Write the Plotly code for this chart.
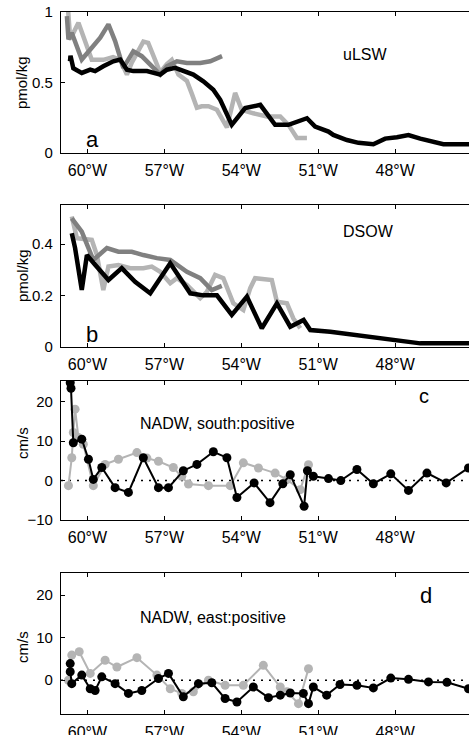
import plotly.graph_objects as go

# ---------------- data ----------------
# Panel a (uLSW, pmol/kg)
a_black_lon = [-60.68, -60.66, -60.55, -60.22, -59.89, -59.70, -59.38, -58.99, -58.72, -58.46, -58.21, -57.68,
               -57.16, -56.90, -56.58, -56.26, -55.87, -55.48, -55.09, -54.82, -54.56, -54.37, -53.85, -53.26,
               -52.68, -52.16, -51.44, -51.12, -50.60, -50.41, -49.88, -49.43, -48.85, -48.39, -47.93, -47.48,
               -47.02, -46.63, -46.12, -44.9]
a_black_val = [0.65, 0.69, 0.60, 0.567, 0.59, 0.58, 0.614, 0.65, 0.662, 0.59, 0.58, 0.58,
               0.555, 0.59, 0.603, 0.58, 0.555, 0.507, 0.448, 0.376, 0.28, 0.198, 0.317, 0.34,
               0.198, 0.198, 0.245, 0.186, 0.15, 0.126, 0.09, 0.07, 0.06, 0.10, 0.11, 0.125,
               0.10, 0.08, 0.06, 0.06]
a_light_lon = [-60.76, -60.67, -60.35, -59.83, -59.38, -59.00, -58.72, -58.46, -58.27, -57.82, -57.63, -57.16,
               -56.90, -56.71, -56.45, -56.12, -55.93, -55.73, -55.54, -55.28, -54.95, -54.56, -54.24, -53.98,
               -53.53, -53.00, -52.48, -52.16, -51.83, -51.44]
a_light_val = [1.03, 0.806, 0.924, 0.66, 0.66, 0.68, 0.66, 0.555, 0.64, 0.79, 0.78, 0.57,
               0.63, 0.66, 0.555, 0.51, 0.42, 0.32, 0.33, 0.33, 0.305, 0.18, 0.425, 0.305,
               0.28, 0.257, 0.257, 0.198, 0.105, 0.105]
a_dark_lon = [-60.80, -60.74, -60.61, -60.22, -59.83, -59.50, -59.18, -58.92, -58.60, -58.21, -57.88, -57.49,
              -57.16, -56.90, -56.51, -56.12, -55.60, -55.21, -54.75]
a_dark_val = [0.97, 0.805, 0.853, 0.662, 0.746, 0.817, 0.912, 0.793, 0.603, 0.72, 0.686, 0.614,
              0.555, 0.614, 0.65, 0.638, 0.638, 0.65, 0.686]

# Panel b (DSOW, pmol/kg)
b_black_lon = [-60.61, -60.48, -60.22, -60.02, -59.70, -59.18, -58.66, -58.14, -57.55, -56.77, -55.99, -55.48,
               -54.95, -54.37, -53.78, -53.20, -52.61, -52.09, -51.57, -51.31, -50.53, -49.10, -47.80, -47.02,
               -44.9]
b_black_val = [0.442, 0.384, 0.221, 0.357, 0.319, 0.26, 0.306, 0.253, 0.208, 0.325, 0.208, 0.20,
               0.20, 0.124, 0.195, 0.072, 0.169, 0.078, 0.104, 0.065, 0.058, 0.039, 0.0195, 0.013,
               0.013]
b_light_lon = [-60.61, -60.41, -59.83, -59.63, -59.38, -59.18, -58.79, -58.33, -57.82, -57.49, -57.16, -56.77,
               -56.51, -56.12, -55.60, -55.34, -55.02, -54.70, -54.31, -53.92, -53.65, -53.46, -52.81, -52.61,
               -52.22, -51.97, -51.70]
b_light_val = [0.507, 0.423, 0.416, 0.357, 0.221, 0.312, 0.318, 0.306, 0.306, 0.312, 0.292, 0.247,
               0.267, 0.24, 0.189, 0.214, 0.28, 0.267, 0.169, 0.143, 0.228, 0.267, 0.26, 0.175,
               0.169, 0.11, 0.072]
b_dark_lon = [-60.61, -60.22, -59.77, -59.24, -58.79, -58.27, -57.82, -57.29, -56.77, -56.12, -55.60, -55.15,
              -54.76]
b_dark_val = [0.50, 0.448, 0.338, 0.384, 0.37, 0.37, 0.357, 0.345, 0.338, 0.292, 0.267, 0.221,
              0.237]

# Panel c (NADW, south positive, cm/s)
c_black_lon = [-60.67, -60.64, -60.55, -60.22, -59.96, -59.77, -59.44, -58.92, -58.40, -57.82, -57.23, -56.84,
               -56.26, -55.73, -55.09, -54.56, -54.17, -53.50, -52.88, -52.38, -52.09, -51.55, -51.42, -51.19,
               -50.60, -50.12, -49.49, -48.85, -48.17, -47.48, -46.76, -46.01, -45.14]
c_black_val = [24.8, 23.4, 9.6, 10.5, 5.4, 0.3, 3.3, -1.8, -3.0, 5.8, -1.8, -1.8,
               2.5, 4.1, 7.3, 5.8, -4.3, -0.6, -5.6, -0.8, 1.5, -6.5, 2.5, 1.1,
               0.5, 0.0, 2.8, -0.8, 1.7, -2.5, 1.9, -0.6, 3.2]
c_light_lon = [-60.74, -60.61, -60.55, -60.48, -60.35, -60.16, -59.77, -59.31, -58.79, -58.07, -57.68, -57.23,
               -56.65, -56.32, -56.06, -55.28, -54.43, -53.92, -53.33, -52.68, -52.22, -51.70, -51.38]
c_light_val = [-1.3, 5.8, 12.2, 18.1, 10.9, 9.2, -1.3, 4.1, 5.4, 7.1, 5.7, 4.9,
               3.3, 1.1, -0.9, -1.3, -1.3, 4.5, 3.2, 1.9, 0.25, -2.3, 4.0]

# Panel d (NADW, east positive, cm/s)
d_black_lon = [-60.67, -60.67, -60.61, -60.22, -59.89, -59.70, -59.44, -58.92, -58.40, -57.88, -57.23, -56.84,
               -56.26, -55.67, -55.15, -54.63, -54.17, -53.53, -52.94, -52.48, -52.09, -51.58, -51.38, -51.19,
               -50.67, -50.15, -49.49, -48.85, -48.17, -47.48, -46.70, -45.98, -45.14]
d_black_val = [3.9, 2.0, -0.8, 1.2, -2.0, -2.4, 0.8, -0.8, -3.1, -2.4, 0.4, 1.6,
               -3.9, -0.8, -0.6, -4.3, -5.1, -1.6, -4.1, -3.5, -3.0, -3.1, -5.5, -1.6,
               -3.5, -1.0, -1.2, -1.8, 0.5, 0.2, -0.4, -0.5, -2.0]
d_light_lon = [-60.74, -60.61, -60.32, -59.89, -59.31, -58.85, -58.07, -57.29, -56.77, -56.32, -55.87, -55.28,
               -54.63, -53.92, -53.14, -52.48, -52.22, -51.77, -51.38]
d_light_val = [0.0, 5.9, 6.7, 1.6, 4.7, 3.1, 5.3, 1.2, -2.0, -3.1, -2.7, 0.0,
               -1.2, -1.2, 3.5, -1.6, -2.7, -5.5, 2.7]

x_tickvals = [-60, -57, -54, -51, -48]
x_ticktext = ["60°W", "57°W", "54°W", "51°W", "48°W"]

# ---------------- figure ----------------
W, H = 469, 735
ML = 61
BLACK = "#000000"
LIGHT = "#b4b4b4"
DARK = "#808080"
FONT = "Liberation Sans, Arial, Helvetica, sans-serif"

fig = go.Figure()

def line(x, y, color, width, ax):
    fig.add_trace(go.Scatter(x=x, y=y, mode="lines", line=dict(color=color, width=width),
                             xaxis="x" + ax, yaxis="y" + ax, showlegend=False, hoverinfo="skip"))

def linemark(x, y, color, ax):
    fig.add_trace(go.Scatter(x=x, y=y, mode="lines+markers", line=dict(color=color, width=2),
                             marker=dict(color=color, size=9),
                             xaxis="x" + ax, yaxis="y" + ax, showlegend=False, hoverinfo="skip"))

line(a_light_lon, a_light_val, LIGHT, 4.5, "")
line(a_dark_lon, a_dark_val, DARK, 4.5, "")
line(a_black_lon, a_black_val, BLACK, 4.5, "")
line(b_light_lon, b_light_val, LIGHT, 4.5, "2")
line(b_dark_lon, b_dark_val, DARK, 4.5, "2")
line(b_black_lon, b_black_val, BLACK, 4.5, "2")
linemark(c_light_lon, c_light_val, LIGHT, "3")
linemark(c_black_lon, c_black_val, BLACK, "3")
linemark(d_light_lon, d_light_val, LIGHT, "4")
linemark(d_black_lon, d_black_val, BLACK, "4")

# panel pixel extents (top, bottom)
panels = [(12.0, 152.7), (205.0, 346.7), (381.0, 520.0), (573.3, 714.3)]
yranges = [[0, 1.0], [0, 0.552], [-10, 25.25], [-8, 25.1]]
ytickvals = [[0, 0.5, 1], [0, 0.2, 0.4], [-10, 0, 10, 20], [0, 10, 20]]
yticktext = [["0", "0.5", "1"], ["0", "0.2", "0.4"], ["\u221210", "0", "10", "20"], ["0", "10", "20"]]

xr = [-61.03, -45.12]
layout = dict(width=W, height=H, margin=dict(l=ML, r=0, t=0, b=0),
              paper_bgcolor="white", plot_bgcolor="white", showlegend=False,
              font=dict(family=FONT, size=15, color="black"))
for i, (top, bot) in enumerate(panels):
    sfx = "" if i == 0 else str(i + 1)
    dom = [1 - bot / H, 1 - top / H]
    layout["xaxis" + sfx] = dict(range=xr, domain=[0, 1], anchor="y" + sfx,
                                 showline=True, linecolor="black", linewidth=1.2, mirror="ticks",
                                 ticks="inside", ticklen=4, tickcolor="black",
                                 tickvals=x_tickvals, ticktext=x_ticktext, showgrid=False, zeroline=False,
                                 tickfont=dict(size=16), automargin=False, ticklabelstandoff=3)
    layout["yaxis" + sfx] = dict(range=yranges[i], domain=dom, anchor="x" + sfx,
                                 showline=True, linecolor="black", linewidth=1.2, mirror=False,
                                 ticks="inside", ticklen=4, tickcolor="black",
                                 tickvals=ytickvals[i], ticktext=yticktext[i], showgrid=False, zeroline=False,
                                 tickfont=dict(size=15), automargin=False, ticklabelstandoff=4)
fig.update_layout(**layout)

# dotted zero lines in c and d
for ax in ["3", "4"]:
    fig.add_shape(type="line", xref="x" + ax + " domain", yref="y" + ax, x0=0, x1=1, y0=0, y1=0,
                  line=dict(color="black", width=1.6, dash="2px,6px"), layer="below")

PW = W - ML

def ann(text, px, py, size, xanchor="center", angle=0):
    fig.add_annotation(text=text, x=(px - ML) / PW, y=1 - py / H, xref="paper", yref="paper",
                       showarrow=False, xanchor=xanchor, yanchor="middle", textangle=angle,
                       font=dict(size=size, family=FONT, color="black"))

ann("uLSW", 365, 55, 16)
ann("DSOW", 368, 232, 16)
ann("a", 92, 139, 22)
ann("b", 92, 334, 22)
ann("c", 424, 396, 20)
ann("d", 426, 595, 22)
ann("NADW, south:positive", 138, 423, 16, xanchor="left")
ann("NADW, east:positive", 138, 617, 16, xanchor="left")
ann("pmol/kg", 22, 83, 15, angle=-90)
ann("pmol/kg", 22, 276, 15, angle=-90)
ann("cm/s", 22, 443, 15, angle=-90)
ann("cm/s", 22, 647, 15, angle=-90)

fig.write_html("out.html", config={"displayModeBar": False},
               post_script="document.body.style.margin='0px';document.body.style.overflow='hidden';")
